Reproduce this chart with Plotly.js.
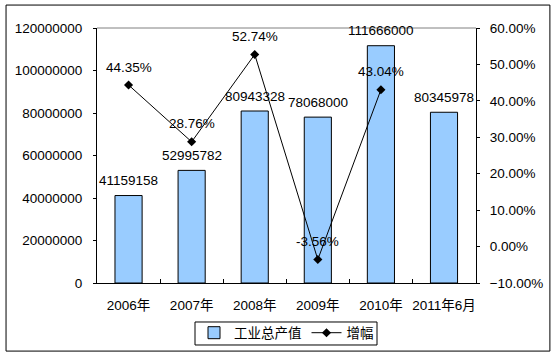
<!DOCTYPE html>
<html>
<head>
<meta charset="utf-8">
<script src="https://cdn.plot.ly/plotly-3.0.1.min.js"></script>
<style>html,body{margin:0;padding:0;background:#fff;}#chart{width:557px;height:357px;}</style>
</head>
<body>
<div id="chart"></div>
<script>
const categories = ['2006年', '2007年', '2008年', '2009年', '2010年', '2011年6月'];
const outputValues = [41159158, 52995782, 80943328, 78068000, 111666000, 80345978];
const growthCategories = ['2006年', '2007年', '2008年', '2009年', '2010年'];
const growthValues = [44.35, 28.76, 52.74, -3.56, 43.04];
const barName = '工业总产值';
const lineName = '增幅';

const FONT = '"Liberation Sans", Arial, "Noto Sans CJK SC", sans-serif';
const FS = 13.5;

const barTrace = {
  type: 'bar', x: categories, y: outputValues, name: barName,
  marker: {color: '#99CCFF', line: {color: '#000000', width: 1}},
  width: 0.43, yaxis: 'y', hoverinfo: 'skip'
};
const lineTrace = {
  type: 'scatter', mode: 'lines+markers', x: growthCategories, y: growthValues, name: lineName,
  line: {color: '#000000', width: 1},
  marker: {symbol: 'diamond', size: 7, color: '#000000'},
  yaxis: 'y2', hoverinfo: 'skip'
};

const annotations = [];
categories.forEach((c, i) => annotations.push({
  x: c, y: outputValues[i], xref: 'x', yref: 'y', text: String(outputValues[i]),
  showarrow: false, yshift: 15, font: {family: FONT, size: FS, color: '#000'}
}));
growthCategories.forEach((c, i) => annotations.push({
  x: c, y: growthValues[i], xref: 'x', yref: 'y2', text: growthValues[i].toFixed(2) + '%',
  showarrow: false, yshift: 18, font: {family: FONT, size: FS, color: '#000'}
}));

const layout = {
  width: 557, height: 357,
  margin: {l: 97, r: 81, t: 28, b: 74, pad: 0, autoexpand: false},
  paper_bgcolor: '#ffffff', plot_bgcolor: '#ffffff',
  font: {family: FONT, size: FS, color: '#000'},
  showlegend: true,
  legend: {
    orientation: 'h', x: 0.5, xanchor: 'center', y: -0.135, yanchor: 'top',
    borderwidth: 0, bgcolor: 'rgba(0,0,0,0)', font: {family: FONT, size: FS, color: '#000'},
    itemwidth: 30, tracegroupgap: 0
  },
  xaxis: {
    type: 'category', showline: true, linecolor: '#000', linewidth: 1,
    ticks: 'inside', ticklen: 4, tickcolor: '#000', tickson: 'boundaries',
    tickangle: 0, automargin: false,
    showgrid: false, zeroline: false, ticklabelstandoff: 10, fixedrange: true
  },
  yaxis: {
    range: [0, 120000000], dtick: 20000000, tickformat: 'd', automargin: false,
    showline: true, linecolor: '#000', linewidth: 1,
    ticks: 'outside', ticklen: 3, tickcolor: '#000',
    showgrid: false, zeroline: false, ticklabelstandoff: 8
  },
  yaxis2: {
    overlaying: 'y', side: 'right', range: [-10, 60], dtick: 10, automargin: false,
    tickformat: '.2f', ticksuffix: '%',
    showline: true, linecolor: '#000', linewidth: 1,
    ticks: 'outside', ticklen: 3, tickcolor: '#000',
    showgrid: false, zeroline: false, ticklabelstandoff: 7
  },
  annotations: annotations,
  shapes: [
    {type: 'line', xref: 'paper', yref: 'paper', x0: 0, x1: 1, y0: 1, y1: 1,
     line: {color: '#808080', width: 1}},
    {type: 'rect', xref: 'paper', yref: 'paper', x0: -0.240, x1: 1.195, y0: -0.267, y1: 1.090,
     line: {color: '#000', width: 1}, fillcolor: 'rgba(0,0,0,0)'},
    {type: 'rect', xref: 'paper', yref: 'paper', x0: 0.2586, x1: 0.7388, y0: -0.2431, y1: -0.1529,
     line: {color: '#000', width: 1}, fillcolor: 'rgba(0,0,0,0)'}
  ]
};

Plotly.newPlot('chart', [barTrace, lineTrace], layout, {displayModeBar: false, staticPlot: true});
</script>
</body>
</html>
